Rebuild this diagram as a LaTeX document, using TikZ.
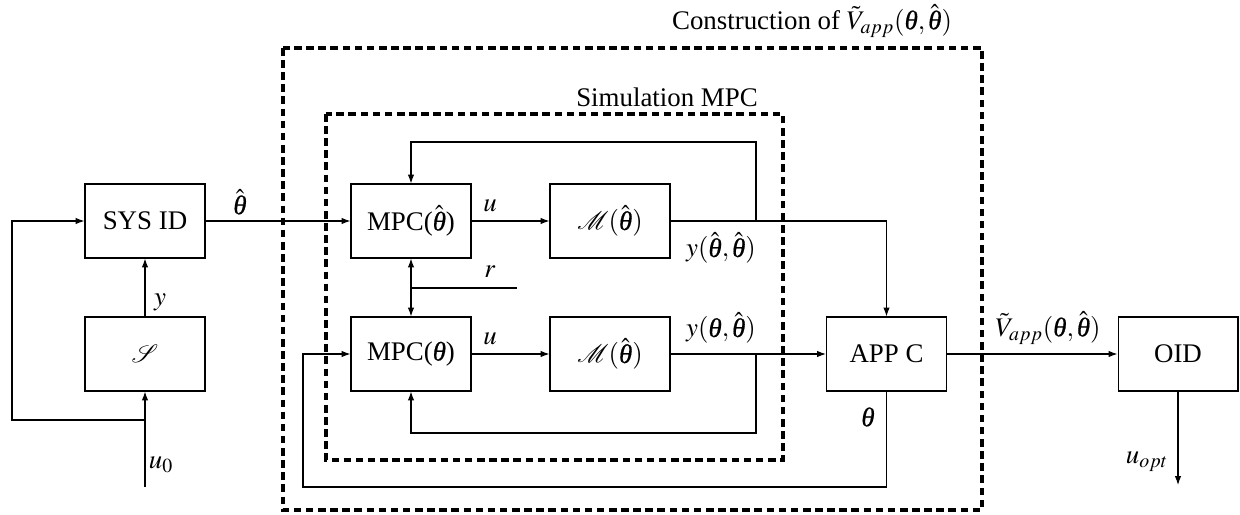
\documentclass[tikz,border=0pt]{standalone}
\usepackage{mathptmx}
\usepackage{mathrsfs}
\usepackage[no-math]{fontspec}
\setmainfont{Liberation Serif}
\newfontfamily\thfam[FakeBold=0.6]{Liberation Serif}
\usetikzlibrary{arrows.meta}
\newcommand{\bth}{\mbox{\thfam\itshape θ}}
\newcommand{\hbth}{\hat{\mbox{\thfam\itshape θ}}}
\begin{document}
\begin{tikzpicture}[x=0.02cm,y=-0.02cm,
  blk/.style={draw,line width=0.6pt,minimum width=2.4cm,minimum height=1.48cm,inner sep=0pt},
  conn/.style={line width=0.6pt},
  arr/.style={conn,-{Latex[length=5pt,width=3.6pt]}},
  dbox/.style={line width=1.9pt,dash pattern=on 4.3pt off 2.6pt},
  lbl/.style={inner sep=0pt},
  font=\fontsize{15.3}{18}\selectfont]
\useasboundingbox (0,0) rectangle (1240,514);
% dashed frames
\draw[dbox] (283,48) rectangle (982,510);
\draw[dbox] (326,114) rectangle (783,460);
% blocks
\node[blk] (sysid) at (145,221) {SYS ID};
\node[blk] (sys) at (145,354) {$\mathscr{S}$};
\node[blk] (mpch) at (411,221) {MPC($\hbth$)};
\node[blk] (mh) at (610,221) {$\mathscr{M}(\hbth)$};
\node[blk] (mpc) at (411,354) {MPC($\bth$)};
\node[blk] (m) at (610,354) {$\mathscr{M}(\hbth)$};
\node[blk] (appc) at (886.5,354) {APP C};
\node[blk] (oid) at (1178,354) {OID};
% coordinates
\coordinate (u0s) at (145,487);
\coordinate (u0b) at (145,420);
\coordinate (fbl) at (12,420);
\coordinate (tl) at (756,142);
\coordinate (bl) at (756,433);
\coordinate (rj) at (411,288);
\coordinate (rend) at (517,288);
\coordinate (tb) at (303,487);
\coordinate (uo) at (1178,485);
% connectors
\draw[arr] (u0s) -- (sys.south);
\draw[arr] (u0b) -- (fbl) |- (sysid.west);
\draw[arr] (sys) -- (sysid);
\draw[arr] (sysid) -- (mpch);
\draw[arr] (mpch) -- (mh);
\draw[arr] (mpc) -- (m);
\draw[arr] (mh.east -| tl) -- (tl) -| (mpch.north);
\draw[arr] (mh.east) -| (appc.north);
\draw[arr] (m.east) -- (appc.west);
\draw[arr] (m.east -| bl) -- (bl) -| (mpc.south);
\draw[conn] (rend) -- (rj);
\draw[arr] (rj) -- (mpch.south);
\draw[arr] (rj) -- (mpc.north);
\draw[arr] (appc.south) |- (tb) |- (mpc.west);
\draw[arr] (appc) -- (oid);
\draw[arr] (oid.south) -- (uo);
% labels
\node[lbl] (lth) at (240,202) {$\hbth$};
\node[lbl] (ly) at (160,302) {$y$};
\node[lbl] (lu0) at (161,465) {$u_0$};
\node[lbl] (lu1) at (490,206) {$u$};
\node[lbl] (lu2) at (490,339) {$u$};
\node[lbl] (lr) at (490,272) {$r$};
\node[lbl] (ly1) at (721,248) {$y(\hbth,\hbth)$};
\node[lbl] (ly2) at (721,328) {$y(\bth,\hbth)$};
\node[lbl] (lt) at (868,417) {$\bth$};
\node[lbl] (lv) at (1048,328) {$\tilde V_{app}(\bth,\hbth)$};
\node[lbl] (luo) at (1147,462) {$u_{opt}$};
\node[lbl] (lsim) at (667,97) {Simulation MPC};
\node[lbl] (lcon) at (812,21) {Construction of $\tilde V_{app}(\bth,\hbth)$};
\end{tikzpicture}
\end{document}
